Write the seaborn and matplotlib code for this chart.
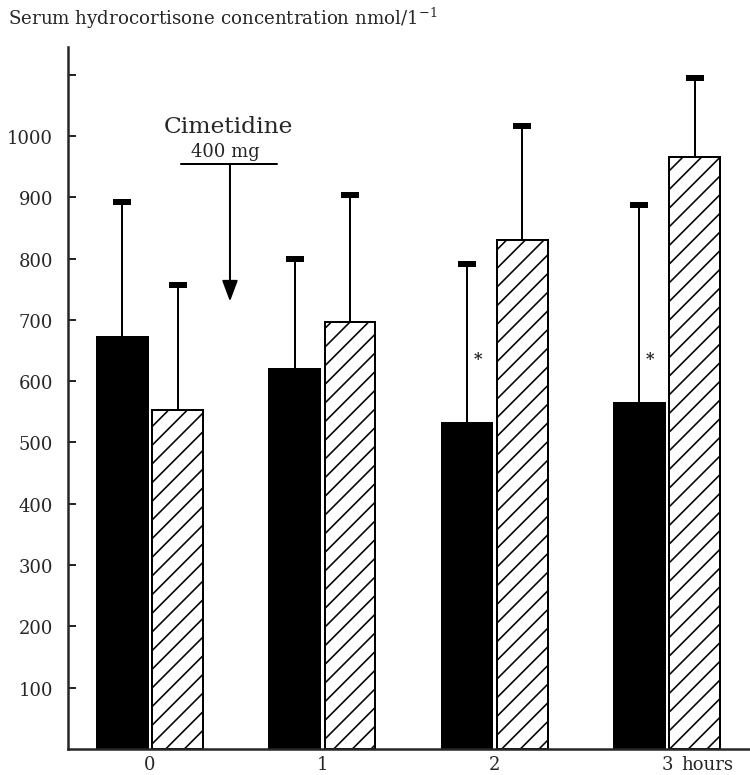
import numpy as np
import pandas as pd
import seaborn as sns
import matplotlib.pyplot as plt

# values (nmol/l), mean and upper SD
hours = ["0", "1", "2", "3"]
groups = ["control", "cimetidine"]
control_mean = [672, 620, 532, 564]
cimetidine_mean = [553, 696, 830, 965]
control_sd = [221, 179, 259, 323]
cimetidine_sd = [204, 207, 186, 129]
star_hours = ["2", "3"]
star_level = 637
y_ticks = [100, 200, 300, 400, 500, 600, 700, 800, 900, 1000, 1100]
y_labels = ["100", "200", "300", "400", "500", "600", "700", "800", "900", "1000", ""]

DPI = 168


def px(v):
    # pixels -> points at the output dpi
    return v * 72 / DPI


sns.set_theme(style="ticks")
plt.rcParams["font.family"] = ["DejaVu Serif"]
plt.rcParams["mathtext.fontset"] = "dejavuserif"
plt.rcParams["hatch.linewidth"] = px(1.6)
plt.rcParams["hatch.color"] = "black"

df = pd.DataFrame({
    "hour": hours * 2,
    "group": [groups[0]] * len(hours) + [groups[1]] * len(hours),
    "value": control_mean + cimetidine_mean,
})

fig = plt.figure(figsize=(750 / DPI, 776 / DPI), dpi=DPI)
ax = fig.add_axes([68 / 750, 26 / 776, 682 / 750, 702 / 776])

sns.barplot(data=df, x="hour", y="value", hue="group", order=hours, hue_order=groups,
            palette=["black", "white"], saturation=1, width=0.64, gap=0.08,
            edgecolor="black", linewidth=px(2), errorbar=None, legend=False, ax=ax)

bars = list(ax.containers)
for b in bars[1]:
    b.set_hatch("///")

for cont, sds in zip(bars, [control_sd, cimetidine_sd]):
    xs = [b.get_x() + b.get_width() / 2 for b in cont]
    ys = [b.get_height() for b in cont]
    eb = ax.errorbar(xs, ys, yerr=[np.zeros(len(sds)), sds], fmt="none", ecolor="black",
                     elinewidth=px(2), capsize=px(9), capthick=px(6))
    # only the upper cap is drawn in the original
    eb[1][0].set_visible(False)

for h in star_hours:
    b = bars[0][hours.index(h)]
    ax.annotate("*", xy=(b.get_x() + b.get_width() / 2, star_level),
                xytext=(px(11), 0), textcoords="offset points",
                ha="center", va="center", fontsize=7, fontweight="bold")

# cimetidine dose marker
ax.text(0.453, 1016, "Cimetidine", ha="center", va="center", fontsize=10)
ax.text(0.44, 975, "400 mg", ha="center", va="center", fontsize=7.7)
ax.plot([0.18, 0.737], [954, 954], color="black", lw=px(2))
ax.annotate("", xy=(0.464, 730), xytext=(0.464, 954),
            arrowprops=dict(arrowstyle="-|>,head_length=0.4,head_width=0.15",
                            mutation_scale=19, lw=px(2), color="black",
                            shrinkA=0, shrinkB=0))

ax.set_xlim(-0.476, 3.482)
ax.set_ylim(0, 1145)
ax.set_yticks(y_ticks, y_labels)
ax.set_xlabel("")
ax.set_ylabel("")
sns.despine(ax=ax)
for s in ["left", "bottom"]:
    ax.spines[s].set_linewidth(px(2.5))
ax.tick_params(axis="y", direction="in", length=px(8), width=px(2), pad=px(15),
               labelsize=7.7)
ax.tick_params(axis="x", length=0, pad=px(6), labelsize=7.7)

ax.annotate("hours", xy=(3, 0), xycoords=("data", "axes fraction"),
            xytext=(px(14), -px(6)), textcoords="offset points",
            ha="left", va="top", fontsize=7.7)

fig.text(8 / 750, 1 - 18 / 776, "Serum hydrocortisone concentration nmol/1$^{-1}$",
         ha="left", va="center", fontsize=7.8)

fig.savefig("out.png", dpi=DPI)
